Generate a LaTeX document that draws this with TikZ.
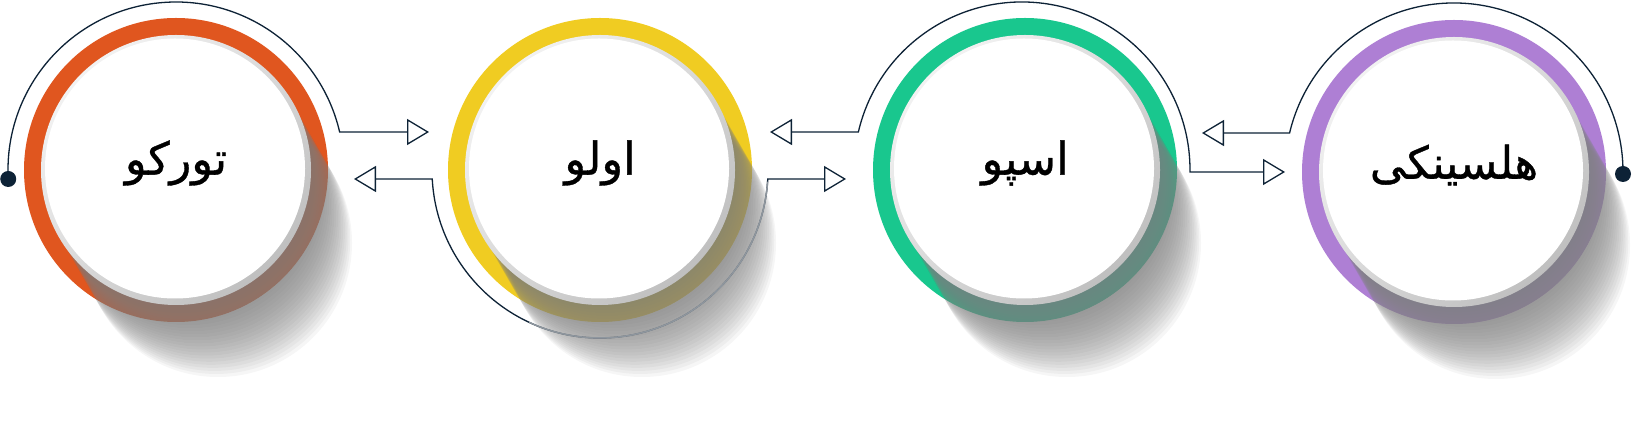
\documentclass[tikz,border=0pt]{standalone}
\usepackage{fontspec}
\newfontfamily\arabicfont[Script=Arabic,FakeBold=0.8]{DejaVu Sans}
\TeXXeTstate=1
\usetikzlibrary{arrows.meta,calc}

\definecolor{cOrange}{HTML}{E0561F}
\definecolor{cYellow}{HTML}{F0CC22}
\definecolor{cGreen}{HTML}{19C78E}
\definecolor{cPurple}{HTML}{AE7FD4}
\definecolor{cLine}{HTML}{0D2236}
\definecolor{cShade}{HTML}{808080}
\definecolor{cArcGray}{HTML}{8E969E}

\newcommand\cityunit[4]{%
  \begin{scope}[shift={#2}]
    \fill[#3] (0,0) circle[radius=152];
    \foreach \k in {0,...,24}
      \fill[cShade, opacity=0.07] (\k*42/24, -\k*73/24) circle[radius=134];
    \shade[top color=gray!10, bottom color=gray!50, shading angle=45] (0,0) circle[radius=135];
    \fill[white] (-1,1.5) circle[radius=130];
    \node[citytext] (#1) at (0,7) {\beginR #4\endR};
  \end{scope}}

\begin{document}
\begin{tikzpicture}[x=1pt,y=1pt,
  conn/.style={draw=cLine, line width=1.3pt},
  >={Triangle[open, length=22pt, width=26pt]},
  citytext/.style={font=\arabicfont\fontsize{45}{52}\selectfont, text=black, inner sep=0pt}]
  \fill[white] (0,0) rectangle (1633,430);
  \useasboundingbox (0,0) rectangle (1633,430);

  \coordinate (cT) at (176,260);
  \coordinate (cO) at (600,260);
  \coordinate (cE) at (1025,260);
  \coordinate (cEa) at (1022,260);
  \coordinate (cH) at (1454,258);
  \coordinate (cHa) at (1454,258);

  \coordinate (tT) at (429,298);
  \coordinate (tO1) at (354,251);
  \coordinate (tO2) at (846,251);
  \coordinate (tE1) at (770,298);
  \coordinate (tE2) at (1285,258);
  \coordinate (tH) at (1202,297);

  % connectors
  \draw[conn, ->] ($(cT)+(183.07:168)$) coordinate (dotT)
      arc[start angle=183.07, end angle=13.07, radius=168] -- (tT);
  \draw[conn, <->] (tO1) -- ($(cO)+(183.07:168)$)
      arc[start angle=183.07, end angle=356.93, radius=168] -- (tO2);
  \draw[conn, <->] (tE1) -- ($(cEa)+(166.93:168)$)
      arc[start angle=166.93, end angle=-0.68, radius=168] -- (tE2);
  \draw[conn, <-] (tH) -- ($(cHa)+(166.67:169)$)
      arc[start angle=166.67, end angle=-0.68, radius=169] coordinate (dotH);
  \fill[cLine] (dotT) circle[radius=8];
  \fill[cLine] (dotH) circle[radius=8];

  % circles
  \cityunit{turku}{(cT)}{cOrange}{تورکو}
  \cityunit{oulu}{(cO)}{cYellow}{اولو}
  \cityunit{espoo}{(cE)}{cGreen}{اسپو}
  \cityunit{helsinki}{(cH)}{cPurple}{هلسینکی}

  % part of Oulu arc seen through its shadow
  \draw[draw=cArcGray, line width=1.5pt] ($(cO)+(245:168)$)
      arc[start angle=245, end angle=356, radius=168];
\end{tikzpicture}
\end{document}
